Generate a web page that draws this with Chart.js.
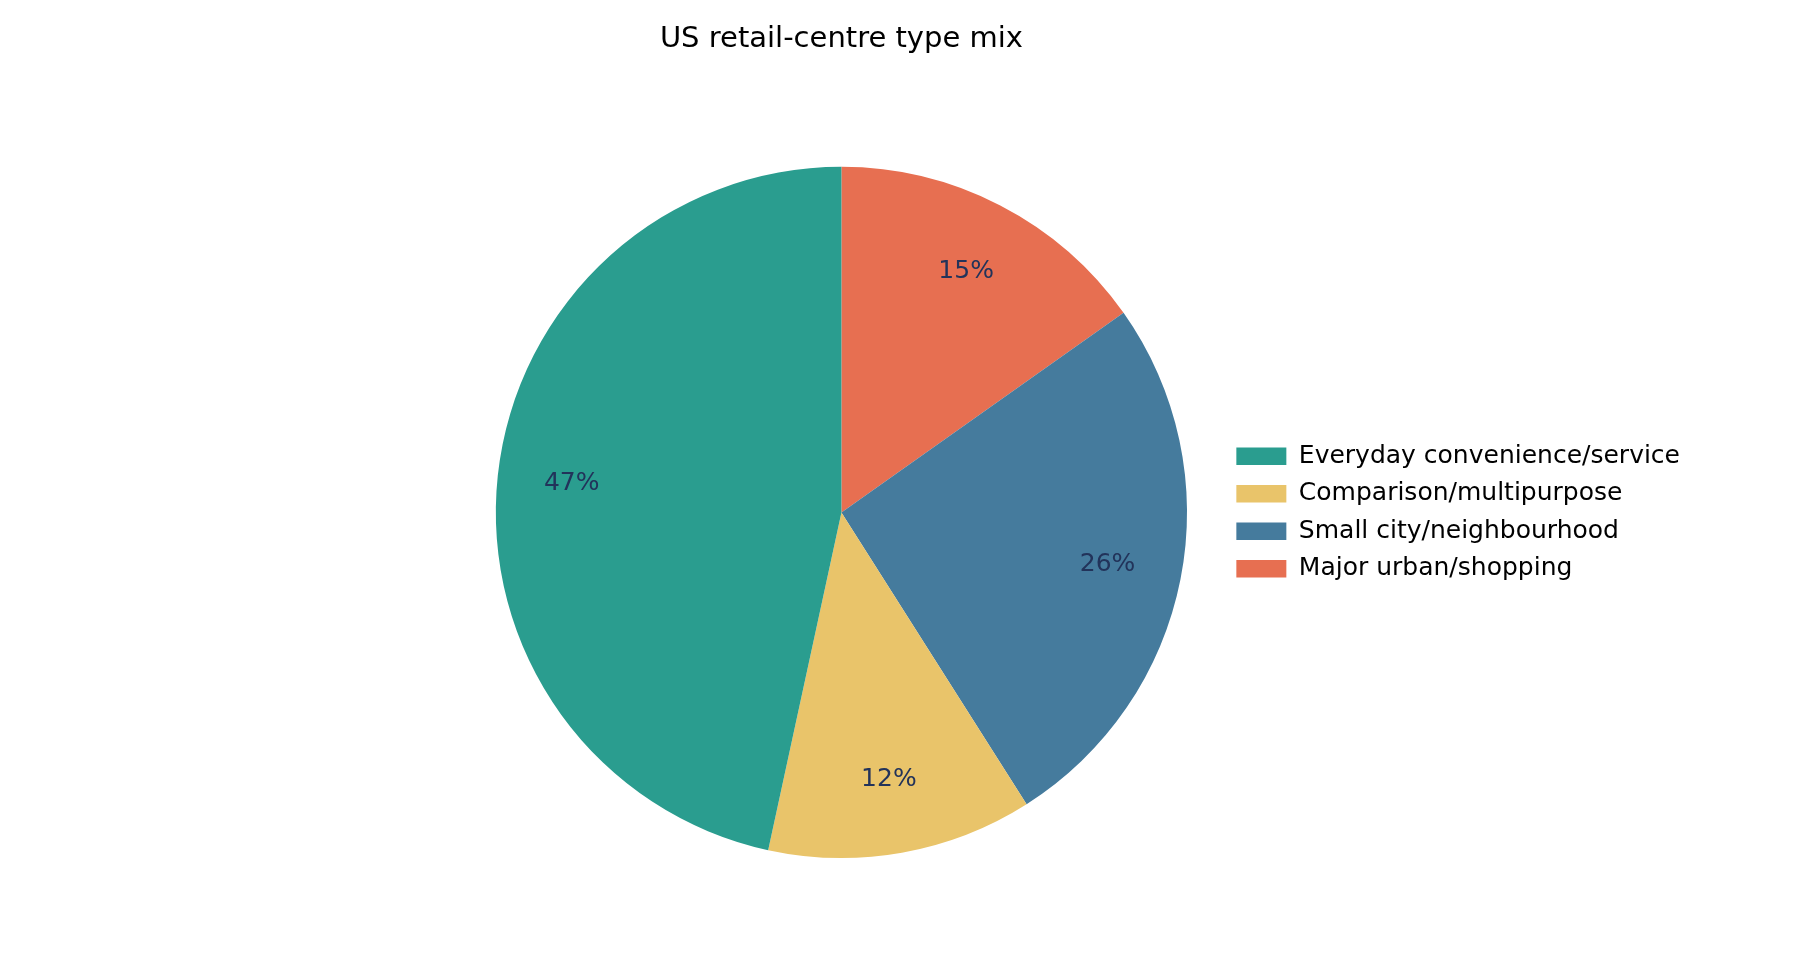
<!DOCTYPE html>
<html lang="en">
<head>
  <meta charset="UTF-8" />
  <meta name="viewport" content="width=device-width, initial-scale=1.0" />
  <title>US retail-centre type mix</title>
  <script src="https://cdn.jsdelivr.net/npm/chart.js"></script>
<style>
  html, body {
    margin: 0;
    padding: 0;
    background-color: #ffffff;
    overflow: hidden;
  }

  .container {
    width: 1800px;
    height: 972px;
  }
</style>
</head>
<body>
  <div class="container">
    <canvas id="grafico"></canvas>
  </div>

  <script>
    // legend order (matplotlib draws these counter-clockwise from 12 o'clock)
    const categories = [
      'Everyday convenience/service',
      'Comparison/multipurpose',
      'Small city/neighbourhood',
      'Major urban/shopping'
    ];
    const shares = [46.6, 12.4, 25.8, 15.2];
    const colors = ['#2a9d8f', '#e9c46a', '#457b9d', '#e76f51'];

    // Chart.js goes clockwise, so feed it reversed and flip the legend back
    const rev = arr => arr.slice().reverse();
    const total = shares.reduce((a, b) => a + b, 0);

    const pctLabels = {
      id: 'pctLabels',
      afterDatasetsDraw(chart) {
        const c = chart.ctx;
        const meta = chart.getDatasetMeta(0);
        const values = chart.data.datasets[0].data;
        c.save();
        c.font = '25px "DejaVu Sans"';
        c.fillStyle = '#22335a';
        c.textAlign = 'center';
        c.textBaseline = 'middle';
        meta.data.forEach((arc, i) => {
          const { x, y, startAngle, endAngle, outerRadius } =
            arc.getProps(['x', 'y', 'startAngle', 'endAngle', 'outerRadius'], true);
          const mid = (startAngle + endAngle) / 2;
          const r = outerRadius * 0.785;
          const txt = Math.round(values[i] / total * 100) + '%';
          c.fillText(txt, x + Math.cos(mid) * r, y + Math.sin(mid) * r);
        });
        c.restore();
      }
    };

    Chart.defaults.font.family = '"DejaVu Sans", sans-serif';

    const ctx = document.getElementById('grafico').getContext('2d');
    const chart = new Chart(ctx, {
      type: 'pie',
      data: {
        labels: rev(categories),
        datasets: [{
          data: rev(shares),
          backgroundColor: rev(colors),
          borderWidth: 0
        }]
      },
      options: {
        responsive: true,
        maintainAspectRatio: false,
        animation: false,
        layout: {
          padding: { left: 459, right: 110, top: 0, bottom: 114 }
        },
        plugins: {
          title: {
            display: true,
            fullSize: false,
            text: 'US retail-centre type mix',
            color: '#000000',
            font: { size: 29, weight: 'normal' },
            padding: { top: 22, bottom: 110 }
          },
          legend: {
            position: 'right',
            fullSize: false,
            reverse: true,
            labels: {
              color: '#000000',
              font: { size: 25 },
              boxWidth: 50,
              boxHeight: 17.5,
              padding: 12.5
            }
          },
          tooltip: { enabled: false }
        }
      },
      plugins: [pctLabels]
    });
  </script>
</body>
</html>
